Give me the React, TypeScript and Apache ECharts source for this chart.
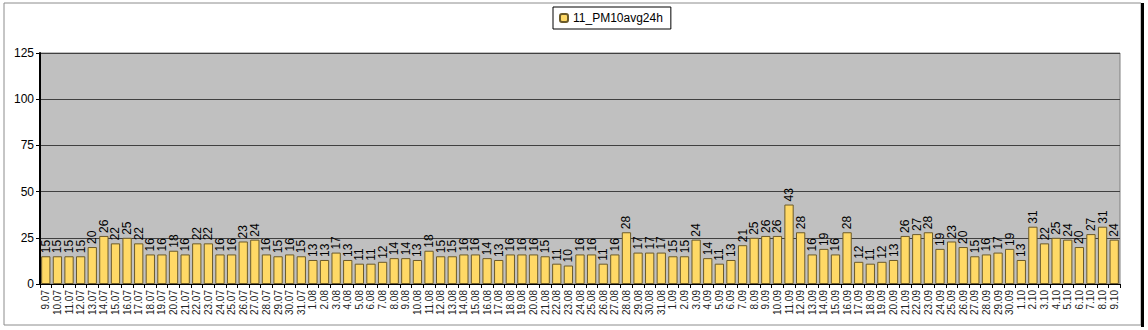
import React, { useEffect, useRef } from "react";
import * as echarts from "echarts";

const julyDays = ["9.07","10.07","11.07","12.07","13.07","14.07","15.07","16.07","17.07","18.07","19.07","20.07","21.07","22.07","23.07","24.07","25.07","26.07","27.07","28.07","29.07","30.07","31.07"];
const augDays = ["1.08","2.08","3.08","4.08","5.08","6.08","7.08","8.08","9.08","10.08","11.08","12.08","13.08","14.08","15.08","16.08","17.08","18.08","19.08","20.08","21.08","22.08","23.08","24.08","25.08","26.08","27.08","28.08","29.08","30.08","31.08"];
const sepDays = ["1.09","2.09","3.09","4.09","5.09","6.09","7.09","8.09","9.09","10.09","11.09","12.09","13.09","14.09","15.09","16.09","17.09","18.09","19.09","20.09","21.09","22.09","23.09","24.09","25.09","26.09","27.09","28.09","29.09","30.09"];
const octDays = ["1.10","2.10","3.10","4.10","5.10","6.10","7.10","8.10","9.10"];

const julyValues = [15,15,15,15,20,26,22,25,22,16,16,18,16,22,22,16,16,23,24,16,15,16,15];
const augValues = [13,13,17,13,11,11,12,14,14,13,18,15,15,16,16,14,13,16,16,16,15,11,10,16,16,11,16,28,17,17,17];
const sepValues = [15,15,24,14,11,13,21,25,26,26,43,28,16,19,16,28,12,11,12,13,26,27,28,19,23,20,15,16,17,19];
const octValues = [13,31,22,25,24,20,27,31,24];

const categories = [...julyDays, ...augDays, ...sepDays, ...octDays];
const values = [...julyValues, ...augValues, ...sepValues, ...octValues];
const seriesName = "11_PM10avg24h";

export default function App() {
  const ref = useRef<HTMLDivElement>(null);
  useEffect(() => {
    document.body.style.margin = "0";
    if (!ref.current) return;
    const chart = echarts.init(ref.current, null, { renderer: "svg" });
    chart.setOption({
      animation: false,
      backgroundColor: "#ffffff",
      textStyle: { fontFamily: "Liberation Sans, Arial, sans-serif" },
      graphic: [
        { type: "rect", shape: { x: 4, y: 3, width: 1137, height: 322 }, style: { fill: "none", stroke: "#8c8c8c", lineWidth: 1 }, silent: true },
        { type: "line", shape: { x1: 1142.5, y1: 3, x2: 1142.5, y2: 327 }, style: { stroke: "#000", lineWidth: 3 }, silent: true },
      ],
      legend: {
        top: 7,
        left: 553,
        data: [seriesName],
        itemWidth: 8,
        itemHeight: 8,
        itemGap: 4,
        padding: [5, 8, 5, 6],
        borderColor: "#000",
        borderWidth: 1,
        backgroundColor: "#fff",
        textStyle: { fontSize: 12, color: "#000", fontFamily: "Liberation Sans, Arial, sans-serif" },
      },
      grid: { left: 40, right: 28, top: 53, bottom: 46, show: true, backgroundColor: "#c0c0c0", borderColor: "#808080", borderWidth: 1 },
      xAxis: {
        type: "category",
        data: categories,
        axisLine: { lineStyle: { color: "#000", width: 1 } },
        axisTick: { show: true, alignWithLabel: false, length: 4, lineStyle: { color: "#000" } },
        axisLabel: { interval: 0, rotate: 90, fontSize: 10, color: "#222", margin: 6 },
      },
      yAxis: {
        type: "value",
        min: 0,
        max: 125,
        interval: 25,
        axisLine: { show: true, lineStyle: { color: "#000", width: 2 } },
        axisTick: { show: true, length: 4, lineStyle: { color: "#000" } },
        axisLabel: { fontSize: 12, color: "#000", margin: 6 },
        splitLine: { show: true, lineStyle: { color: "#404040", width: 1 } },
      },
      series: [
        {
          name: seriesName,
          type: "bar",
          data: values,
          barCategoryGap: "20%",
          itemStyle: { color: "#ffd966", borderColor: "#6b5a2a", borderWidth: 1 },
          label: {
            show: true,
            position: "top",
            rotate: 90,
            align: "left",
            verticalAlign: "middle",
            distance: 3,
            fontSize: 12,
            color: "#000",
          },
        },
      ],
    });
    return () => chart.dispose();
  }, []);
  return <div ref={ref} style={{ width: 1148, height: 330 }} />;
}
